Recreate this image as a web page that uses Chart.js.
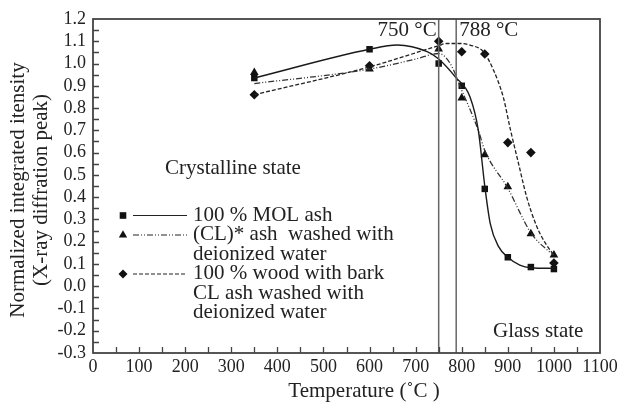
<!DOCTYPE html>
<html>
<head>
<meta charset="utf-8">
<script src="https://cdn.jsdelivr.net/npm/chart.js@4.4.1/dist/chart.umd.min.js"></script>
<style>
  body { margin: 0; background: #fff; }
  #wrap { width: 623px; height: 407px; position: relative; }
</style>
</head>
<body>
<div id="wrap"><canvas id="xrdChart"></canvas></div>
<script>
// measured points
const temps = [350, 600, 750, 800, 850, 900, 950, 1000];
const molAsh = [0.935, 1.064, 1.00, 0.90, 0.437, 0.13, 0.086, 0.077];
const clAsh = [0.96, 0.975, 1.065, 0.845, 0.59, 0.447, 0.235, 0.14];
const woodAsh = [0.86, 0.99, 1.10, 1.053, 1.043, 0.645, 0.60, 0.104];

// fitted curves
const molFitT = [350, 600, 660, 725, 750, 786, 818, 836, 850, 862, 880, 900, 926, 950, 1000];
const molFitV = [0.935, 1.064, 1.083, 1.053, 1.02, 0.94, 0.85, 0.70, 0.45, 0.28, 0.178, 0.13, 0.095, 0.083, 0.08];
const clFitT = [350, 600, 700, 750, 775, 800, 836, 850, 900, 950, 990, 1000];
const clFitV = [0.91, 0.975, 1.02, 1.045, 1.0, 0.88, 0.70, 0.61, 0.44, 0.24, 0.155, 0.14];
const woodFitT = [350, 600, 750, 767, 800, 818, 847, 869, 890, 906, 923, 941, 963, 984, 1000];
const woodFitV = [0.86, 0.985, 1.08, 1.09, 1.09, 1.083, 1.053, 0.97, 0.85, 0.70, 0.553, 0.40, 0.267, 0.185, 0.14];

const transitionTemps = [750, 788];
const xTickValues = [0, 100, 200, 300, 400, 500, 600, 700, 800, 900, 1000, 1100];
const yTickValues = [-0.3, -0.2, -0.1, 0.0, 0.1, 0.2, 0.3, 0.4, 0.5, 0.6, 0.7, 0.8, 0.9, 1.0, 1.1, 1.2];

const xTitle = 'Temperature (˚C )';
const yTitle = ['Normalized integrated itensity', '(X-ray diffration peak)'];

const legendItems = [
  { style: 'rect', dash: [], lines: ['100 % MOL ash'] },
  { style: 'triangle', dash: [6, 2, 1, 2, 1, 2], lines: ['(CL)* ash  washed with', 'deionized water'] },
  { style: 'rectRot', dash: [4, 2], lines: ['100 % wood with bark', 'CL ash washed with', 'deionized water'] }
];

const SERIF = '"Liberation Serif", "DejaVu Serif", serif';
const INK = '#222';

function pairs(xs, ys) {
  return xs.map((x, i) => ({ x: x, y: ys[i] }));
}

function drawMarker(ctx, style, x, y) {
  ctx.save();
  ctx.fillStyle = '#111';
  ctx.beginPath();
  if (style === 'rect') {
    ctx.rect(x - 3.3, y - 3.3, 6.6, 6.6);
  } else if (style === 'triangle') {
    ctx.moveTo(x, y - 4.8);
    ctx.lineTo(x + 4.2, y + 2.6);
    ctx.lineTo(x - 4.2, y + 2.6);
    ctx.closePath();
  } else {
    ctx.moveTo(x, y - 4.5);
    ctx.lineTo(x + 4.5, y);
    ctx.lineTo(x, y + 4.5);
    ctx.lineTo(x - 4.5, y);
    ctx.closePath();
  }
  ctx.fill();
  ctx.restore();
}

const decorPlugin = {
  id: 'decor',
  afterDraw(chart) {
    const ctx = chart.ctx;
    const xs = chart.scales.x;
    const ys = chart.scales.y;
    const area = chart.chartArea;

    ctx.save();
    // inward ticks
    ctx.strokeStyle = '#444';
    ctx.lineWidth = 1.3;
    ctx.beginPath();
    for (let i = 1; i < 22; i++) {
      const px = Math.round(xs.getPixelForValue(i * 50)) + 0.5;
      ctx.moveTo(px, area.bottom);
      ctx.lineTo(px, area.bottom - 6);
    }
    for (let i = 1; i < 30; i++) {
      const py = Math.round(ys.getPixelForValue(-0.3 + i * 0.05)) + 0.5;
      ctx.moveTo(area.left, py);
      ctx.lineTo(area.left + 6, py);
    }
    ctx.stroke();

    // frame
    ctx.lineWidth = 1.8;
    ctx.strokeStyle = '#444';
    ctx.strokeRect(area.left, area.top, area.right - area.left, area.bottom - area.top);

    ctx.fillStyle = INK;
    ctx.font = '21px ' + SERIF;
    ctx.textBaseline = 'middle';

    // axis titles
    ctx.textAlign = 'center';
    ctx.fillText(xTitle, 364, 391);
    ctx.save();
    ctx.translate(0, 190);
    ctx.rotate(-Math.PI / 2);
    ctx.fillText(yTitle[0], 0, 18);
    ctx.fillText(yTitle[1], 0, 41);
    ctx.restore();

    // annotations
    ctx.textAlign = 'left';
    ctx.fillText('Crystalline state', 165, 168);
    ctx.fillText('Glass state', 493, 331);
    ctx.textAlign = 'right';
    ctx.fillText('750 °C', xs.getPixelForValue(750) - 2, 30);
    ctx.textAlign = 'left';
    ctx.fillText('788 °C', xs.getPixelForValue(788) + 3, 30);

    // legend
    const rowY = [215, 234.5, 254, 273.5, 293, 312.5];
    let row = 0;
    legendItems.forEach(item => {
      const y = rowY[row];
      drawMarker(ctx, item.style, 123, y + 0.5);
      ctx.save();
      ctx.strokeStyle = '#222';
      ctx.lineWidth = 1.2;
      ctx.setLineDash(item.dash);
      ctx.beginPath();
      ctx.moveTo(133, y + 0.5);
      ctx.lineTo(187, y + 0.5);
      ctx.stroke();
      ctx.restore();
      item.lines.forEach(line => {
        ctx.fillText(line, 193, rowY[row]);
        row++;
      });
    });
    ctx.restore();
  }
};

const ctx = document.getElementById('xrdChart').getContext('2d');
new Chart(ctx, {
  type: 'scatter',
  data: {
    datasets: [
      { data: [{ x: transitionTemps[0], y: -0.3 }, { x: transitionTemps[0], y: 1.2 }],
        showLine: true, borderColor: '#666', borderWidth: 1.5, pointRadius: 0 },
      { data: [{ x: transitionTemps[1], y: -0.3 }, { x: transitionTemps[1], y: 1.2 }],
        showLine: true, borderColor: '#666', borderWidth: 1.5, pointRadius: 0 },
      { data: pairs(molFitT, molFitV), showLine: true, borderColor: '#1a1a1a', borderWidth: 1.4,
        cubicInterpolationMode: 'monotone', pointRadius: 0 },
      { data: pairs(clFitT, clFitV), showLine: true, borderColor: '#333', borderWidth: 1.3,
        borderDash: [6, 2, 1, 2, 1, 2], cubicInterpolationMode: 'monotone', pointRadius: 0 },
      { data: pairs(woodFitT, woodFitV), showLine: true, borderColor: '#222', borderWidth: 1.3,
        borderDash: [4, 2], cubicInterpolationMode: 'monotone', pointRadius: 0 },
      { data: pairs(temps, molAsh), pointStyle: 'rect', pointRadius: 4.6,
        backgroundColor: '#111', borderColor: '#111', borderWidth: 0 },
      { data: pairs(temps, clAsh), pointStyle: 'triangle', pointRadius: 5,
        backgroundColor: '#111', borderColor: '#111', borderWidth: 0 },
      { data: pairs(temps, woodAsh), pointStyle: 'rectRot', pointRadius: 4.8,
        backgroundColor: '#111', borderColor: '#111', borderWidth: 0 }
    ]
  },
  options: {
    responsive: true,
    maintainAspectRatio: false,
    animation: false,
    layout: { padding: { top: 19, right: 23, left: 0, bottom: 0 } },
    plugins: { legend: { display: false }, tooltip: { enabled: false } },
    scales: {
      x: {
        type: 'linear',
        min: 0,
        max: 1100,
        afterFit: scale => { scale.height = 54; },
        afterBuildTicks: scale => { scale.ticks = xTickValues.map(v => ({ value: v })); },
        ticks: { color: INK, font: { family: SERIF, size: 18 }, padding: 3, maxRotation: 0,
                 autoSkip: false, callback: v => String(v) },
        grid: { display: false, drawTicks: false },
        border: { display: false }
      },
      y: {
        min: -0.3,
        max: 1.2,
        afterFit: scale => { scale.width = 93; },
        afterBuildTicks: scale => { scale.ticks = yTickValues.map(v => ({ value: v })); },
        ticks: { color: INK, font: { family: SERIF, size: 18 }, padding: 7, autoSkip: false,
                 callback: v => v.toFixed(1) },
        grid: { display: false, drawTicks: false },
        border: { display: false }
      }
    }
  },
  plugins: [decorPlugin]
});
</script>
</body>
</html>
